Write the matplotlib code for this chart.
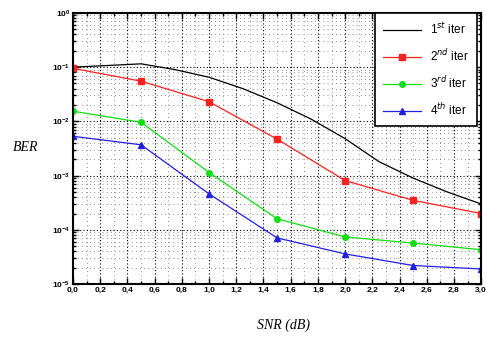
import matplotlib
matplotlib.use('Agg')
import matplotlib.pyplot as plt
from matplotlib.ticker import FixedLocator, LogLocator, NullFormatter

snr = [0.0, 0.5, 1.0, 1.5, 2.0, 2.5, 3.0]
snr_fine = [0.0, 0.25, 0.5, 0.75, 1.0, 1.25, 1.5, 1.75, 2.0, 2.25, 2.5, 2.75, 3.0]

ber_1st = [0.1, 0.107, 0.115, 0.09, 0.065, 0.04, 0.022, 0.011, 0.0048, 0.0018, 0.0009, 0.0005, 0.0003]
ber_2nd = [0.095, 0.055, 0.023, 0.0047, 0.00081, 0.00035, 0.0002]
ber_3rd = [0.0154, 0.0096, 0.00114, 0.00016, 7.4e-5, 5.7e-5, 4.3e-5]
ber_4th = [0.0053, 0.0037, 0.00046, 7.1e-5, 3.6e-5, 2.2e-5, 1.9e-5]

xticks = [0.0, 0.2, 0.4, 0.6, 0.8, 1.0, 1.2, 1.4, 1.6, 1.8, 2.0, 2.2, 2.4, 2.6, 2.8, 3.0]
xlabels = ['0,0', '0,2', '0,4', '0,6', '0,8', '1,0', '1,2', '1,4', '1,6', '1,8',
           '2,0', '2,2', '2,4', '2,6', '2,8', '3,0']
yticks = [1e-5, 1e-4, 1e-3, 1e-2, 1e-1, 1e0]
ylabels = [r'$\mathbf{10^{-5}}$', r'$\mathbf{10^{-4}}$', r'$\mathbf{10^{-3}}$',
           r'$\mathbf{10^{-2}}$', r'$\mathbf{10^{-1}}$', r'$\mathbf{10^{0}}$']

plt.rcParams['font.family'] = ['Liberation Sans', 'DejaVu Sans']
plt.rcParams['mathtext.fontset'] = 'custom'
plt.rcParams['mathtext.rm'] = 'Liberation Sans'
plt.rcParams['mathtext.bf'] = 'Liberation Sans:bold'

fig = plt.figure(figsize=(4.87, 3.39), dpi=100)
ax = fig.add_axes([0.150, 0.162, 0.838, 0.800])

ax.plot(snr_fine, ber_1st, color='black', lw=0.9, label=r'1$^{st}$ iter')
ax.plot(snr, ber_2nd, color='#ff2020', lw=0.9, marker='s', ms=4, label=r'2$^{nd}$ iter')
ax.plot(snr, ber_3rd, color='#10e010', lw=0.9, marker='o', ms=4, label=r'3$^{rd}$ iter')
ax.plot(snr, ber_4th, color='#2020e0', lw=0.9, marker='^', ms=5, label=r'4$^{th}$ iter')

ax.set_yscale('log')
ax.set_xlim(0, 3)
ax.set_ylim(1e-5, 1)
ax.set_xticks(xticks)
ax.set_xticklabels(xlabels, fontsize=6, fontweight='bold')
ax.xaxis.set_minor_locator(FixedLocator([i * 0.1 for i in range(31)]))
ax.set_yticks(yticks)
ax.set_yticklabels(ylabels, fontsize=6)
ax.yaxis.set_minor_locator(LogLocator(base=10, subs=range(2, 10), numticks=20))
ax.yaxis.set_minor_formatter(NullFormatter())

ax.grid(True, which='major', color='black', ls=(0, (1, 2)), lw=0.8)
ax.grid(True, which='minor', color='#333333', ls=(0, (1, 5)), lw=0.5)
ax.tick_params(which='both', direction='in', top=True, right=True, width=1.0)
ax.tick_params(which='major', length=4, pad=2)
ax.tick_params(which='minor', length=2)
for s in ax.spines.values():
    s.set_linewidth(1.5)

leg = ax.legend(loc='upper right', fontsize=8.5, frameon=True, fancybox=False,
                edgecolor='black', framealpha=1, borderpad=0.7, labelspacing=0.95,
                handlelength=3.2, borderaxespad=0, bbox_to_anchor=(0.99, 1.0))
leg.get_frame().set_linewidth(1.2)

fig.text(0.052, 0.566, 'BER', family='Liberation Serif', style='italic',
         fontsize=10, ha='center', va='center')
fig.text(0.583, 0.04, 'SNR (dB)', family='Liberation Serif', style='italic',
         fontsize=10, ha='center', va='center')

fig.savefig('out.png', dpi=100)
